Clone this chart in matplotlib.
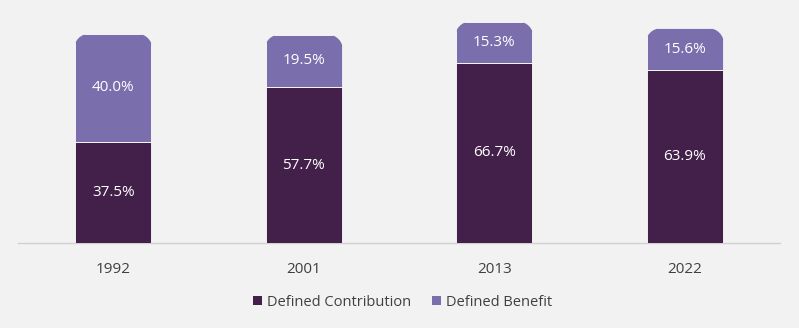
import matplotlib
matplotlib.use("Agg")
import matplotlib.pyplot as plt
from matplotlib.patches import Patch, PathPatch
from matplotlib.path import Path
import numpy as np

years = ["1992", "2001", "2013", "2022"]
defined_contribution = [37.5, 57.7, 66.7, 63.9]
defined_benefit = [40.0, 19.5, 15.3, 15.6]

dark = "#43204a"
light = "#7a6eac"
bg = "#f2f2f2"

plt.rcParams['font.family'] = ['Open Sans', 'DejaVu Sans']

fig = plt.figure(figsize=(7.99, 3.28), dpi=100, facecolor=bg)
ax = fig.add_axes([18/799, 85/328, 762/799, 243/328])
ax.set_facecolor(bg)

x = np.arange(len(years))
w = 0.4
ymax = 90.0
ax.set_xlim(-0.5, len(years) - 0.5)
ax.set_ylim(0, ymax)

b1 = ax.bar(x, defined_contribution, width=w, color=dark, edgecolor="white", linewidth=0.6, zorder=3)
b2 = ax.bar(x, defined_benefit, width=w, bottom=defined_contribution, color=light,
            edgecolor="white", linewidth=0.6, zorder=3)

# rounded top corners via clip path
ax_w_px = 762
ax_h_px = 243
xper = len(years) / ax_w_px
yper = ymax / ax_h_px
r_px = 15
rx = r_px * xper
ry = r_px * yper


def top_rounded_path(x0, y0, width, height, rx, ry):
    k = 0.5523
    x1 = x0 + width
    y1 = y0 + height
    verts = [
        (x0, y0), (x1, y0), (x1, y1 - ry),
        (x1, y1 - ry + k * ry), (x1 - rx + k * rx, y1), (x1 - rx, y1),
        (x0 + rx, y1),
        (x0 + rx - k * rx, y1), (x0, y1 - ry + k * ry), (x0, y1 - ry),
        (x0, y0),
    ]
    codes = [Path.MOVETO, Path.LINETO, Path.LINETO,
             Path.CURVE4, Path.CURVE4, Path.CURVE4,
             Path.LINETO,
             Path.CURVE4, Path.CURVE4, Path.CURVE4,
             Path.CLOSEPOLY]
    return Path(verts, codes)


for rect, dc, db in zip(b2, defined_contribution, defined_benefit):
    pad = 0.005
    p = top_rounded_path(rect.get_x() - pad, -10, rect.get_width() + 2 * pad, dc + db + 10, rx, ry)
    clip = PathPatch(p, transform=ax.transData)
    rect.set_clip_path(clip)

for xi, dc, db in zip(x, defined_contribution, defined_benefit):
    ax.text(xi, dc / 2, f"{dc:.1f}%", ha="center", va="center", color="white", fontsize=11, zorder=4)
    ax.text(xi, dc + db / 2, f"{db:.1f}%", ha="center", va="center", color="white", fontsize=11, zorder=4)

for s in ["top", "right", "left"]:
    ax.spines[s].set_visible(False)
ax.spines["bottom"].set_color("#d0d0d0")
ax.spines["bottom"].set_linewidth(1)
ax.set_yticks([])
ax.set_xticks(x)
ax.set_xticklabels(years, fontsize=11, color="#404040")
ax.tick_params(axis="x", length=0, pad=14)

handles = [Patch(facecolor=dark, label="Defined Contribution"),
           Patch(facecolor=light, label="Defined Benefit")]
fig.legend(handles=handles, loc="center", bbox_to_anchor=(0.504, 1 - 302/328), ncol=2,
           frameon=False, fontsize=10.5, handlelength=0.6, handleheight=0.6,
           handletextpad=0.4, columnspacing=1.4, labelcolor="#404040")

fig.savefig("out.png", dpi=100, facecolor=bg)
